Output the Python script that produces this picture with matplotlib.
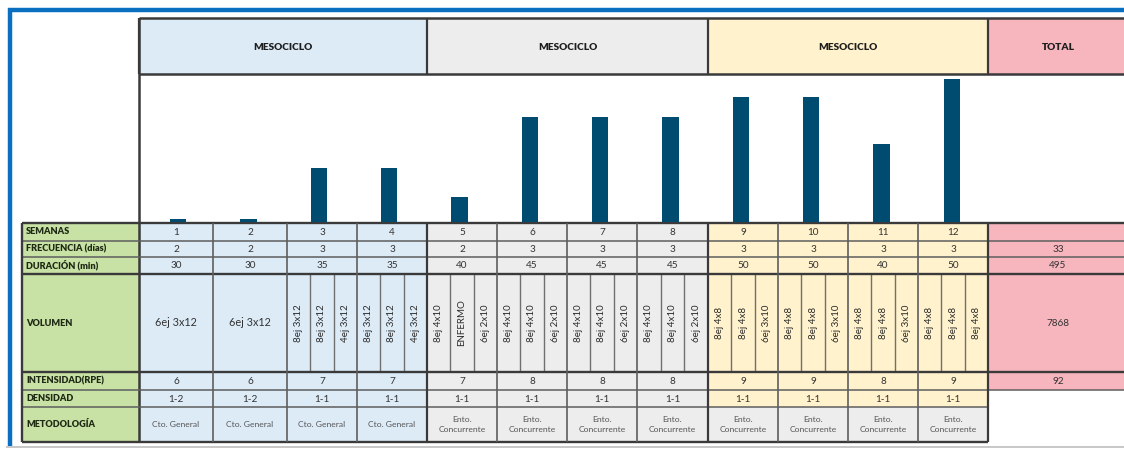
"""Planificación de 12 semanas: barras de carga + tabla de mesociclos.
Todo se dibuja en píxeles sobre un eje de fondo; las barras van en su propio eje."""

import matplotlib

matplotlib.use("Agg")
import matplotlib.pyplot as plt  # noqa: E402
from matplotlib.patches import Rectangle  # noqa: E402

plt.rcParams["font.family"] = ["Lato", "DejaVu Sans"]

# --- datos -------------------------------------------------------------------
SEMANAS = ["1", "2", "3", "4", "5", "6", "7", "8", "9", "10", "11", "12"]
FRECUENCIA = [2, 2, 3, 3, 2, 3, 3, 3, 3, 3, 3, 3]
DURACION = [30, 30, 35, 35, 40, 45, 45, 45, 50, 50, 40, 50]
VOLUMEN = [
    "6ej 3x12",
    "6ej 3x12",
    ["8ej 3x12", "8ej 3x12", "4ej 3x12"],
    ["8ej 3x12", "8ej 3x12", "4ej 3x12"],
    ["8ej 4x10", "ENFERMO", "6ej 2x10"],
    ["8ej 4x10", "8ej 4x10", "6ej 2x10"],
    ["8ej 4x10", "8ej 4x10", "6ej 2x10"],
    ["8ej 4x10", "8ej 4x10", "6ej 2x10"],
    ["8ej 4x8", "8ej 4x8", "6ej 3x10"],
    ["8ej 4x8", "8ej 4x8", "6ej 3x10"],
    ["8ej 4x8", "8ej 4x8", "6ej 3x10"],
    ["8ej 4x8", "8ej 4x8", "8ej 4x8"],
]
INTENSIDAD = [6, 6, 7, 7, 7, 8, 8, 8, 9, 9, 8, 9]
DENSIDAD = ["1-2", "1-2", "1-1", "1-1", "1-1", "1-1", "1-1", "1-1", "1-1", "1-1", "1-1", "1-1"]
METODOLOGIA = ["Cto. General"] * 4 + ["Ento.\nConcurrente"] * 8
CARGA = [3, 3, 54, 54, 25, 105, 105, 105, 125, 125, 78, 143]  # altura de barra (leída)

MESOCICLOS = ["MESOCICLO", "MESOCICLO", "MESOCICLO"]
TOTAL = "TOTAL"
TOTALES = ["", "33", "495", "7868", "92"]  # SEMANAS..INTENSIDAD
FILAS = ["SEMANAS", "FRECUENCIA (días)", "DURACIÓN (min)", "VOLUMEN",
         "INTENSIDAD(RPE)", "DENSIDAD", "METODOLOGÍA"]

# --- geometría (px) y estilo -------------------------------------------------
W, H = 1124, 450
COL_X = [139, 213, 287, 357, 427, 497, 567, 637, 708, 778, 848, 918, 988]
RIGHT = 1130
ROW_Y = [223, 241, 257, 274, 372, 390, 407, 442]
LABEL_X0 = 22
HEAD_Y0, HEAD_Y1 = 18, 74
BASE_Y = 222

C_MESO = ["#DDEBF7", "#EDEDED", "#FFF2CC"]
C_TOTAL = "#F7B5BE"
C_LABEL = "#C8E1A5"
C_BAR = "#004C70"
C_FRAME = "#0B6FC1"
C_DARK = "#3A3A3A"
C_MID = "#5E5E5E"
C_TEXT = "#333333"

fig = plt.figure(figsize=(W / 100, H / 100), dpi=100)
ax = fig.add_axes([0, 0, 1, 1])
ax.set_xlim(0, W)
ax.set_ylim(H, 0)
ax.axis("off")


def box(x0, x1, y0, y1, fc):
    ax.add_patch(Rectangle((x0, y0), x1 - x0, y1 - y0, facecolor=fc, edgecolor="none", zorder=1))


def hline(y, x0, x1, lw=1.0, c=C_MID):
    ax.plot([x0, x1], [y, y], color=c, lw=lw, zorder=3, solid_capstyle="butt")


def vline(x, y0, y1, lw=1.0, c=C_MID):
    ax.plot([x, x], [y0, y1], color=c, lw=lw, zorder=3, solid_capstyle="butt")


def put(x, y, s, size=7, **kw):
    kw.setdefault("color", C_TEXT)
    ax.text(x, y, s, fontsize=size, ha="center", va="center", zorder=4, **kw)


# cabecera
for m, name in enumerate(MESOCICLOS):
    x0, x1 = COL_X[4 * m], COL_X[4 * m + 4]
    box(x0, x1, HEAD_Y0, HEAD_Y1, C_MESO[m])
    put((x0 + x1) / 2, 47, name, size=7.3, fontweight="heavy", color="#1E1E1E")
box(COL_X[-1], RIGHT, HEAD_Y0, HEAD_Y1, C_TOTAL)
put((COL_X[-1] + W) / 2 + 2, 47, TOTAL, size=7.3, fontweight="heavy", color="#1E1E1E")

# columna de etiquetas
box(LABEL_X0, COL_X[0], ROW_Y[0], ROW_Y[-1], C_LABEL)
for r, lab in enumerate(FILAS):
    ax.text(LABEL_X0 + 4, (ROW_Y[r] + ROW_Y[r + 1]) / 2, lab, fontsize=6.6,
            fontweight="heavy", color="#1E2A14", ha="left", va="center", zorder=4)

# celdas de semanas
for i in range(12):
    x0, x1 = COL_X[i], COL_X[i + 1]
    xc = (x0 + x1) / 2
    box(x0, x1, ROW_Y[0], ROW_Y[6], C_MESO[i // 4])
    box(x0, x1, ROW_Y[6], ROW_Y[7], C_MESO[0] if i < 4 else C_MESO[1])
    vals = [SEMANAS[i], FRECUENCIA[i], DURACION[i], None, INTENSIDAD[i], DENSIDAD[i]]
    for r, v in enumerate(vals):
        if v is not None:
            put(xc, (ROW_Y[r] + ROW_Y[r + 1]) / 2 + 0.5, str(v), size=7.2)
    vol = VOLUMEN[i]
    yc = (ROW_Y[3] + ROW_Y[4]) / 2
    if isinstance(vol, str):
        put(xc, yc, vol, size=7.8)
    else:
        step = (x1 - x0) / 3
        for k, s in enumerate(vol):
            put(x0 + step * (k + 0.5), yc, s, size=7, rotation=90, color="#2A2A2A")
            if k:
                vline(x0 + step * k, ROW_Y[3], ROW_Y[4], lw=1.0, c="#707070")
    put(xc, (ROW_Y[6] + ROW_Y[7]) / 2, METODOLOGIA[i], size=6.1, color="#555555",
        linespacing=1.45)

# columna total
box(COL_X[-1], RIGHT, ROW_Y[0], ROW_Y[5], C_TOTAL)
xt = (COL_X[-1] + W) / 2 + 2
for r, v in enumerate(TOTALES):
    put(xt, (ROW_Y[r] + ROW_Y[r + 1]) / 2 + 0.5, v, size=7.2)

# rejilla
hline(HEAD_Y0, COL_X[0], RIGHT, lw=1.8, c=C_DARK)
hline(HEAD_Y1, COL_X[0], RIGHT, lw=1.8, c=C_DARK)
for x in (COL_X[0], COL_X[4], COL_X[8], COL_X[12]):
    vline(x, HEAD_Y0, HEAD_Y1, lw=1.6, c=C_DARK)
vline(COL_X[0], HEAD_Y0, ROW_Y[-1], lw=1.8, c=C_DARK)
for r, y in enumerate(ROW_Y):
    thick = r in (0, 3, 4, 7)
    x1 = RIGHT if r <= 5 else COL_X[-1]
    hline(y, LABEL_X0, x1, lw=1.7 if thick else 1.1, c=C_DARK if thick else C_MID)
vline(LABEL_X0, ROW_Y[0], ROW_Y[-1], lw=1.7, c=C_DARK)
for i, x in enumerate(COL_X[1:], start=1):
    meso_edge = i % 4 == 0
    vline(x, ROW_Y[0], ROW_Y[-1], lw=1.6 if meso_edge else 1.2, c=C_DARK if meso_edge else C_MID)

# marco azul y línea inferior
hline(446.5, 6, W, lw=1.2, c="#BDBDBD")
hline(10, 8, W, lw=3.2, c=C_FRAME)
vline(10, 8, 446, lw=3.2, c=C_FRAME)

# barras de carga
bx0, bx1 = 143, 987
bax = fig.add_axes([bx0 / W, 1 - BASE_Y / H, (bx1 - bx0) / W, (BASE_Y - HEAD_Y1) / H])
bax.patch.set_alpha(0)
bax.bar(range(1, 13), CARGA, width=0.23, color=C_BAR, zorder=3)
bax.set_xlim(0.5, 12.5)
bax.set_ylim(0, 148)
bax.axis("off")

fig.savefig("out.png", dpi=100)
